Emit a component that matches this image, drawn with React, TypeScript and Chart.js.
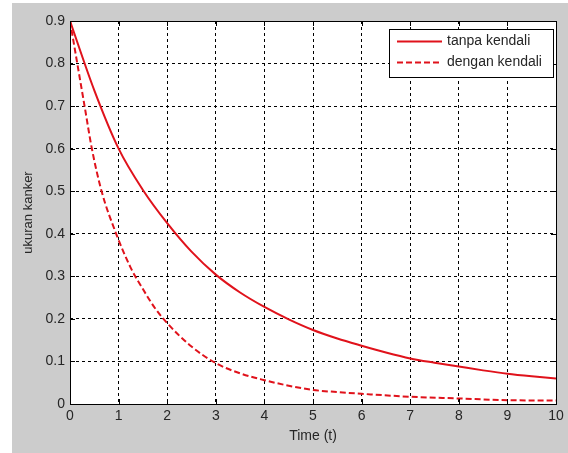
import React, { useEffect, useRef } from "react";
import { Chart, registerables } from "chart.js";

Chart.register(...registerables);

// ---- data ----
const seriesNames = ["tanpa kendali", "dengan kendali"];
const timeSolid = [0, 0.5, 1, 1.5, 2, 2.5, 3, 3.5, 4, 4.5, 5, 5.5, 6, 6.5, 7, 7.5, 8, 8.5, 9, 9.5, 10];
const valuesSolid = [0.9, 0.737, 0.6, 0.503, 0.425, 0.358, 0.304, 0.262, 0.228, 0.199, 0.174, 0.154, 0.137, 0.121, 0.107, 0.097, 0.088, 0.079, 0.071, 0.065, 0.06];
const timeDashed = [0, 0.15, 0.3, 0.45, 0.65, 0.95, 1.25, 1.5, 1.75, 2, 2.5, 3, 3.5, 4, 4.5, 5, 5.5, 6, 7, 8, 9, 10];
const valuesDashed = [0.9, 0.8, 0.7, 0.6, 0.5, 0.4, 0.32, 0.27, 0.225, 0.19, 0.135, 0.096, 0.072, 0.056, 0.043, 0.033, 0.028, 0.024, 0.017, 0.013, 0.009, 0.008];
const xTickValues = [0, 1, 2, 3, 4, 5, 6, 7, 8, 9, 10];
const xTickLabels = ["0", "1", "2", "3", "4", "5", "6", "7", "8", "9", "10"];
const yTickValues = [0, 0.1, 0.2, 0.3, 0.4, 0.5, 0.6, 0.7, 0.8, 0.9];
const yTickLabels = ["0", "0.1", "0.2", "0.3", "0.4", "0.5", "0.6", "0.7", "0.8", "0.9"];
const xTitle = "Time (t)";
const yTitle = "ukuran kanker";

const RED = "#e0121b";
const FONT = "'Liberation Sans', Arial, sans-serif";
const TEXT = "#262626";

const matlabPlugin = {
  id: "matlabLook",
  beforeDraw(chart: any) {
    const { ctx, chartArea: a } = chart;
    ctx.save();
    ctx.fillStyle = "#ffffff";
    ctx.fillRect(0, 0, chart.width, chart.height);
    ctx.fillStyle = "#cccccc";
    ctx.fillRect(12, 3, chart.width - 12, chart.height - 3);
    ctx.fillStyle = "#ffffff";
    ctx.fillRect(a.left, a.top, a.right - a.left, a.bottom - a.top);
    ctx.restore();
  },
  afterDatasetsDraw(chart: any) {
    const { ctx, chartArea: a, scales } = chart;
    ctx.save();
    ctx.strokeStyle = "#000";
    ctx.lineWidth = 1;
    ctx.setLineDash([]);
    const L = 5;
    ctx.beginPath();
    xTickValues.forEach((v) => {
      const px = Math.round(scales.x.getPixelForValue(v)) + 0.5;
      ctx.moveTo(px, a.bottom);
      ctx.lineTo(px, a.bottom - L);
      ctx.moveTo(px, a.top);
      ctx.lineTo(px, a.top + L);
    });
    yTickValues.forEach((v) => {
      const py = Math.round(scales.y.getPixelForValue(v)) + 0.5;
      ctx.moveTo(a.left, py);
      ctx.lineTo(a.left + L, py);
      ctx.moveTo(a.right, py);
      ctx.lineTo(a.right - L, py);
    });
    ctx.stroke();
    ctx.strokeRect(Math.round(a.left) + 0.5, Math.round(a.top) + 0.5, Math.round(a.right - a.left), Math.round(a.bottom - a.top));

    // legend box
    const bx = 389.5, by = 29.5, bw = 164, bh = 48;
    ctx.fillStyle = "#ffffff";
    ctx.fillRect(bx, by, bw, bh);
    ctx.strokeRect(bx, by, bw, bh);
    const rows = [41.5, 62.5];
    chart.data.datasets.forEach((ds: any, i: number) => {
      ctx.strokeStyle = ds.borderColor;
      ctx.lineWidth = ds.borderWidth;
      ctx.setLineDash(ds.borderDash || []);
      ctx.beginPath();
      ctx.moveTo(397, rows[i]);
      ctx.lineTo(442, rows[i]);
      ctx.stroke();
      ctx.setLineDash([]);
      ctx.fillStyle = TEXT;
      ctx.font = `14px ${FONT}`;
      ctx.textBaseline = "middle";
      ctx.textAlign = "left";
      ctx.fillText(ds.label, 447, rows[i]);
    });
    ctx.restore();
  },
};

export default function App() {
  const ref = useRef<HTMLCanvasElement | null>(null);
  useEffect(() => {
    if (!ref.current) return;
    const chart = new Chart(ref.current, {
      type: "line",
      data: {
        datasets: [
          {
            label: seriesNames[0],
            data: timeSolid.map((t, i) => ({ x: t, y: valuesSolid[i] })),
            borderColor: RED,
            borderWidth: 2,
            pointRadius: 0,
            cubicInterpolationMode: "monotone",
            fill: false,
          },
          {
            label: seriesNames[1],
            data: timeDashed.map((t, i) => ({ x: t, y: valuesDashed[i] })),
            borderColor: RED,
            borderWidth: 2,
            borderDash: [6, 3],
            pointRadius: 0,
            cubicInterpolationMode: "monotone",
            fill: false,
          },
        ],
      },
      options: {
        responsive: false,
        animation: false,
        layout: { padding: { left: 0, top: 21, right: 12, bottom: 0 } },
        plugins: { legend: { display: false }, tooltip: { enabled: false } },
        scales: {
          x: {
            type: "linear",
            min: 0,
            max: 10,
            afterBuildTicks: (s: any) => {
              s.ticks = xTickValues.map((v) => ({ value: v }));
            },
            afterFit: (s: any) => {
              s.height = 49;
            },
            ticks: {
              padding: 4,
              color: TEXT,
              font: { family: FONT, size: 14 },
              callback: (_v: any, i: number) => xTickLabels[i],
              maxRotation: 0,
            },
            grid: { color: "#000", lineWidth: 1, drawTicks: false },
            border: { display: false, dash: [3, 3] },
            title: {
              display: true,
              text: xTitle,
              color: TEXT,
              font: { family: FONT, size: 14 },
              padding: { top: 0, bottom: 8 },
            },
          },
          y: {
            type: "linear",
            min: 0,
            max: 0.9,
            afterBuildTicks: (s: any) => {
              s.ticks = yTickValues.map((v) => ({ value: v }));
            },
            afterFit: (s: any) => {
              s.width = 70;
            },
            ticks: {
              padding: 5,
              color: TEXT,
              font: { family: FONT, size: 14 },
              callback: (_v: any, i: number) => yTickLabels[i],
            },
            grid: { color: "#000", lineWidth: 1, drawTicks: false },
            border: { display: false, dash: [3, 3] },
            title: {
              display: true,
              text: yTitle,
              color: TEXT,
              font: { family: FONT, size: 13 },
              padding: { top: 21, bottom: 0 },
            },
          },
        },
      },
      plugins: [matlabPlugin],
    } as any);
    return () => chart.destroy();
  }, []);
  return (
    <div style={{ position: "absolute", left: 0, top: 0, width: 568, height: 453 }}>
      <canvas ref={ref} width={568} height={453} style={{ display: "block" }} />
    </div>
  );
}
